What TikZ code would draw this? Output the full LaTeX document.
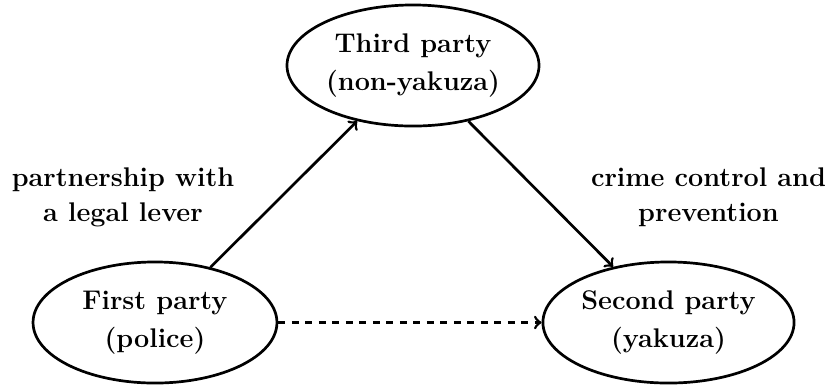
\documentclass[tikz,border=0pt]{standalone}
\usetikzlibrary{shapes.geometric}
\begin{document}
\begin{tikzpicture}[x=0.4444pt, y=-0.4444pt,
  party/.style={ellipse, draw, line width=1.2pt, align=center,
    font=\large\bfseries, minimum height=53.8pt, inner sep=0pt},
  note/.style={align=center, font=\large\bfseries},
  link/.style={->, line width=1.2pt}]
  \useasboundingbox (0,0) rectangle (829,386);

  \node[party, minimum width=112pt]   (third)  at (413,65.5) {Third party\\[3pt](non-yakuza)};
  \node[party, minimum width=108.4pt] (first)  at (155,322.5) {First party\\[3pt](police)};
  \node[party, minimum width=111.6pt] (second) at (668.5,322.5) {Second party\\[3pt](yakuza)};

  \draw[link] (first) -- (third);
  \draw[link] (third) -- (second);
  \draw[link, dashed] (first) -- (second);

  \node[note] (lever) at (123,197) {partnership with\\[1.5pt]a legal lever};
  \node[note] (crime) at (708.5,197) {crime control and\\[1.5pt]prevention};
\end{tikzpicture}
\end{document}
